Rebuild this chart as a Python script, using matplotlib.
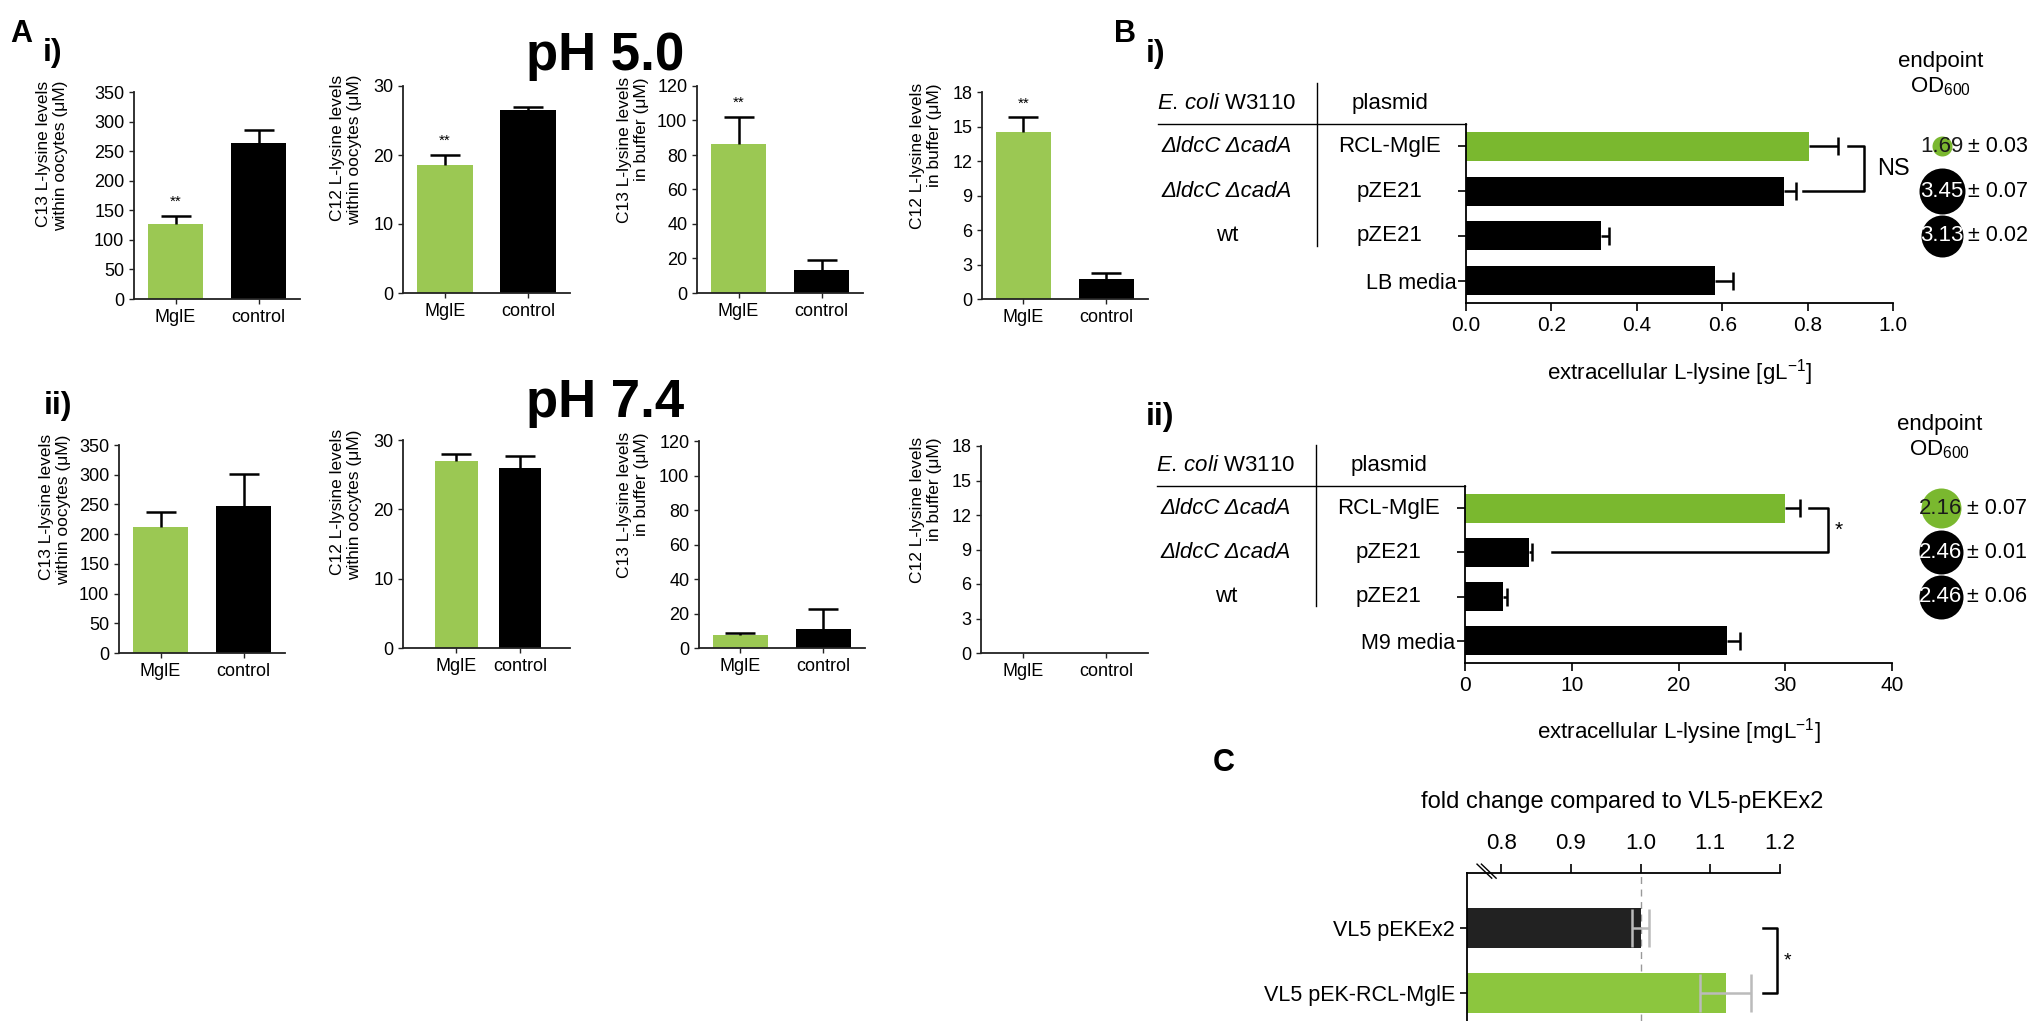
import numpy as np
import matplotlib
matplotlib.use('Agg')
import matplotlib.pyplot as plt
import matplotlib.transforms as mtransforms

plt.rcParams['font.family'] = ['Liberation Sans', 'DejaVu Sans']
plt.rcParams['mathtext.fontset'] = 'custom'
plt.rcParams['mathtext.rm'] = 'Liberation Sans'
plt.rcParams['mathtext.it'] = 'Liberation Sans:italic'
plt.rcParams['mathtext.bf'] = 'Liberation Sans:bold'

#%% DATA

# A - oocyte uptake, MglE vs control
a_groups = ['MglE', 'control']
a_ylabels = ['C13 L-lysine levels\nwithin oocytes (\u03bcM)',
             'C12 L-lysine levels\nwithin oocytes (\u03bcM)',
             'C13 L-lysine levels\nin buffer (\u03bcM)',
             'C12 L-lysine levels\nin buffer (\u03bcM)']
a_ymax = [350, 30, 120, 18]
a_ystep = [50, 10, 20, 3]

ph50_mean = [[126, 264], [18.5, 26.5], [86.2, 13.1], [14.5, 1.7]]
ph50_err = [[14.3, 22.5], [1.5, 0.4], [15.8, 6.2], [1.3, 0.6]]
ph50_sig = ['**', '**', '**', '**']

ph74_mean = [[212, 247], [26.9, 25.9], [7.3, 11.0], [0, 0]]
ph74_err = [[24.6, 54.8], [1.1, 1.8], [1.4, 11.4], [0, 0]]

# B - E. coli export
b_strains = ['\u0394ldcC \u0394cadA', '\u0394ldcC \u0394cadA', 'wt']
b_strain_italic = [True, True, False]
b_plasmids = ['RCL-MglE', 'pZE21', 'pZE21']

bi_values = [0.803, 0.744, 0.316, 0.583]
bi_err = [0.068, 0.029, 0.018, 0.043]
bi_media = 'LB media'
bi_od = [1.69, 3.45, 3.13]
bi_od_err = [0.03, 0.07, 0.02]

bii_values = [30.0, 6.0, 3.6, 24.5]
bii_err = [1.4, 0.3, 0.3, 1.3]
bii_media = 'M9 media'
bii_od = [2.16, 2.46, 2.46]
bii_od_err = [0.07, 0.01, 0.06]

# C - fold change
c_labels = ['VL5 pEKEx2', 'VL5 pEK-RCL-MglE']
c_values = [1.0, 1.122]
c_err = [0.012, 0.037]
c_ticks = [0.8, 0.9, 1.0, 1.1, 1.2]

#%% LAYOUT

W, H = 2033, 1021
fig = plt.figure(figsize=(W / 100, H / 100), dpi=100, facecolor='w')


def rect(l, t, r, b):
    return [l / W, 1 - b / H, (r - l) / W, (b - t) / H]


def ftext(x, y, s, **kw):
    fig.text(x / W, 1 - y / H, s, **kw)


a_green = '#9bc853'
b_green = '#7ab82f'
c_green = '#8cc63e'

top_rects = [(134, 92, 300, 299), (403, 86, 570, 293),
             (697, 86, 863, 293), (982, 92, 1148, 299)]
bot_rects = [(119, 445, 285, 653), (403, 440, 570, 648),
             (699, 441, 865, 648), (981, 446, 1148, 653)]
top_xlims = [(-0.5, 1.5)] * 4
bot_xlims = [(-0.5, 1.5), (-0.84, 1.79), (-0.5, 1.5), (-0.5, 1.5)]
top_labx = [-0.40, -0.245, -0.29, -0.24]
bot_labx = [-0.29, -0.245, -0.30, -0.235]


def a_panel(r, k, means, errs, xlim, labx, sig=None):
    ax = fig.add_axes(rect(*r))
    x = np.arange(len(a_groups))
    ax.bar(x, means, width=0.67, color=[a_green, 'black'], zorder=2)
    for xi, m, e in zip(x, means, errs):
        if e > 0:
            eb = ax.errorbar(xi, m, yerr=[[0], [e]], fmt='none', ecolor='black',
                             elinewidth=1.8, capsize=11, capthick=1.8, zorder=3)
            eb[1][0].set_visible(False)
    if sig:
        ax.annotate(sig, xy=(0, means[0] + errs[0]), xytext=(0, 5),
                    textcoords='offset points', ha='center', va='bottom', fontsize=11)
    ax.set_xlim(xlim)
    ax.set_ylim(0, a_ymax[k])
    ax.set_yticks(np.arange(0, a_ymax[k] + 1, a_ystep[k]))
    ax.set_xticks(x, a_groups)
    for s in ['top', 'right']:
        ax.spines[s].set_visible(False)
    for s in ['left', 'bottom']:
        ax.spines[s].set_color('#222222')
        ax.spines[s].set_linewidth(1.3)
    ax.tick_params(labelsize=13, length=3.5, width=1, color='#222222')
    ax.set_ylabel(a_ylabels[k], fontsize=12.5, multialignment='right', linespacing=1.15)
    ax.yaxis.set_label_coords(labx, 0.69)
    return ax


for k in range(4):
    a_panel(top_rects[k], k, ph50_mean[k], ph50_err[k], top_xlims[k], top_labx[k], ph50_sig[k])
    a_panel(bot_rects[k], k, ph74_mean[k], ph74_err[k], bot_xlims[k], bot_labx[k])

ftext(10, 42, 'A', fontsize=22, fontweight='bold', va='baseline')
ftext(53, 53, 'i)', fontsize=23, fontweight='bold', ha='center', va='center')
ftext(58, 406, 'ii)', fontsize=23, fontweight='bold', ha='center', va='center')
ftext(605, 70, 'pH 5.0', fontsize=38, fontweight='bold', ha='center', va='baseline')
ftext(605, 417, 'pH 7.4', fontsize=38, fontweight='bold', ha='center', va='baseline')


def b_panel(r, values, errs, media, xmax, xstep, fmt, xlabel, ods, od_errs, od_sizes,
            bracket, sig):
    ax = fig.add_axes(rect(*r))
    y = np.arange(len(values))
    ax.barh(y, values, height=0.65, color=[b_green, 'black', 'black', 'black'], zorder=2)
    for yi, v, e in zip(y, values, errs):
        eb = ax.errorbar(v, yi, xerr=[[0], [e]], fmt='none', ecolor='black',
                         elinewidth=1.8, capsize=6.5, capthick=1.8, zorder=3)
        eb[1][0].set_visible(False)
    ax.set_ylim(3.5, -0.5)
    ax.set_xlim(0, xmax)
    xt = np.arange(0, xmax + xstep / 2, xstep)
    ax.set_xticks(xt, [fmt % v for v in xt])
    ax.set_yticks(y, ['', '', '', media])
    for s in ['top', 'right']:
        ax.spines[s].set_visible(False)
    for s in ['left', 'bottom']:
        ax.spines[s].set_linewidth(1.3)
    ax.tick_params(axis='x', labelsize=15, length=6, width=1.2)
    ax.tick_params(axis='y', labelsize=15.5, length=6, width=1.2, pad=1)
    ax.set_xlabel(xlabel, fontsize=16)
    ax.xaxis.set_label_coords(0.5, -0.30)

    tr = mtransforms.blended_transform_factory(ax.transAxes, ax.transData)
    # table on the left
    ax.text(-0.56, -0.96, r'$\mathit{E.\,coli}$ W3110', transform=tr, ha='center',
            va='center', fontsize=16)
    ax.text(-0.178, -0.96, 'plasmid', transform=tr, ha='center', va='center', fontsize=16)
    for i, (st, it, pl) in enumerate(zip(b_strains, b_strain_italic, b_plasmids)):
        ax.text(-0.56, i, st, transform=tr, ha='center', va='center', fontsize=16,
                style='italic' if it else 'normal')
        ax.text(-0.178, i, pl, transform=tr, ha='center', va='center', fontsize=16)
    ax.plot([-0.721, 0], [-0.5, -0.5], transform=tr, color='black', lw=1, clip_on=False)
    ax.plot([-0.349, -0.349], [-1.42, 2.22], transform=tr, color='black', lw=1, clip_on=False)

    # significance bracket
    xt0, xv, xb0 = bracket
    ax.plot([xt0, xv, xv, xb0], [0, 0, 1, 1], color='black', lw=1.8, clip_on=False)
    ax.text(sig[1], sig[2], sig[0], ha='center', va='center', fontsize=sig[3])

    # endpoint OD600
    ax.text(1.112, -1.9, 'endpoint', transform=tr, ha='center', va='center', fontsize=16)
    ax.text(1.112, -1.33, r'OD$_{600}$', transform=tr, ha='center', va='center', fontsize=16)
    od_colors = [b_green, 'black', 'black']
    od_txt = ['#1a1a1a', 'white', 'white']
    for i, (od, oe, ms) in enumerate(zip(ods, od_errs, od_sizes)):
        ax.plot([1.114], [i], 'o', ms=ms / 1.389, color=od_colors[i], mew=0,
                transform=tr, clip_on=False)
        ax.text(1.114, i, '%.2f' % od, transform=tr, ha='center', va='center',
                fontsize=16, color=od_txt[i])
        ax.text(1.176, i, '\u00b1 %.2f' % oe, transform=tr, ha='left', va='center',
                fontsize=15.5)
    return ax


b_panel((1466, 124, 1893, 303), bi_values, bi_err, bi_media, 1.0, 0.2, '%.1f',
        r'extracellular L-lysine [gL$^{-1}$]', bi_od, bi_od_err, [20, 46, 42],
        (0.894, 0.932, 0.789), ('NS', 1.0, 0.5, 17))
b_panel((1465, 486, 1892, 663), bii_values, bii_err, bii_media, 40, 10, '%d',
        r'extracellular L-lysine [mgL$^{-1}$]', bii_od, bii_od_err, [40, 44, 44],
        (32.2, 34.0, 8.15), ('*', 35.0, 0.5, 15))

ftext(1114, 42, 'B', fontsize=22, fontweight='bold', va='baseline')
ftext(1156, 54, 'i)', fontsize=23, fontweight='bold', ha='center', va='center')
ftext(1160, 417, 'ii)', fontsize=23, fontweight='bold', ha='center', va='center')

#%% C
ax = fig.add_axes(rect(1467, 873, 1780, 1021))
yc = np.arange(len(c_values))
ax.barh(yc, c_values, height=0.615, color=['#222222', c_green], zorder=2)
ax.errorbar(c_values, yc, xerr=c_err, fmt='none', ecolor='#bbbbbb', elinewidth=1.8,
            capsize=13.5, capthick=1.8, zorder=3)
ax.axvline(1.0, color='#999999', lw=1, ls=(0, (5, 4)), zorder=1)
ax.set_xlim(0.751, 1.2)
ax.set_ylim(1.43, -0.846)
ax.xaxis.tick_top()
ax.set_xticks(c_ticks, ['%.1f' % v for v in c_ticks])
ax.set_yticks(yc, c_labels)
for s in ['bottom', 'right']:
    ax.spines[s].set_visible(False)
for s in ['left', 'top']:
    ax.spines[s].set_linewidth(1.3)
ax.tick_params(axis='x', length=6.5, width=1.2, labelsize=16, pad=7)
ax.tick_params(axis='y', length=5, width=1.2, labelsize=15.5)
# axis break marks
for dx in [0.0, 0.014]:
    ax.plot([0.032 + dx, 0.079 + dx], [1.06, 0.965], transform=ax.transAxes,
            color='black', lw=1, clip_on=False)
ax.plot([1.176, 1.195, 1.195, 1.176], [0, 0, 1, 1], color='black', lw=1.8, clip_on=False)
ax.text(1.21, 0.5, '*', ha='center', va='center', fontsize=14)

ftext(1224, 763, 'C', fontsize=22, fontweight='bold', ha='center', va='center')
ftext(1622, 802, 'fold change compared to VL5-pEKEx2', fontsize=17, ha='center', va='center')

fig.savefig('out.png', dpi=100, facecolor='w')
